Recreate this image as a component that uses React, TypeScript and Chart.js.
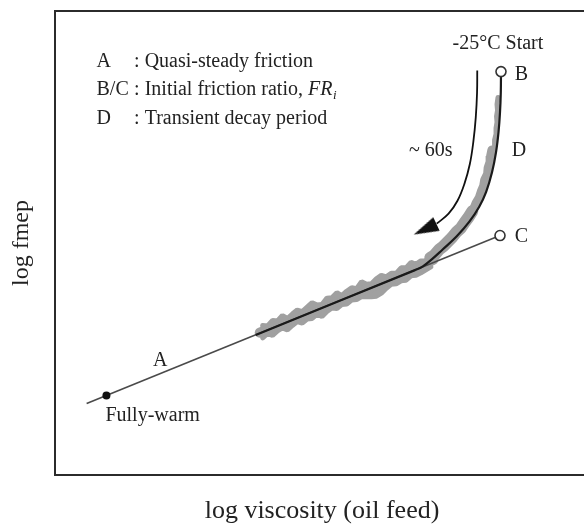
import React, { useEffect, useRef } from "react";
import { Chart, registerables } from "chart.js";

Chart.register(...registerables);

// ---------- schematic axes (arbitrary log units) ----------
const X_MIN = 0;
const X_MAX = 108;
const Y_MIN = 0;
const Y_MAX = 93.4;

// ---------- line A : quasi-steady friction ----------
const lineAX = [6.4, 90];
const lineAY = [14.4, 48.2];

// fully-warm operating point
const fullyWarmX = [10.4];
const fullyWarmY = [16];

// B (-25°C start) and C (quasi-steady value at start)
const startPointsX = [90.2, 90];
const startPointsY = [81.2, 48.2];

// ---------- fitted transient decay curve D (B -> onto line A) ----------
const curveDX = [90.2, 90.16, 90, 89.7, 89.2, 88.4, 87.2, 85.8, 83.8, 81.2, 78.4, 76.2, 74.4, 72.8, 40.6];
const curveDY = [81.2, 77, 73, 69, 65, 61, 57, 54, 51, 48, 45.4, 43.4, 42, 41.24, 28.2];

// ---------- measured friction trace (grey, noisy) ----------
const traceTopX = [89.6, 89.4, 89.5, 89.3, 89.4, 89.2, 89.2, 88.9, 88.9, 88.6];
const traceTopY = [76, 74.6, 73.4, 72.2, 71, 69.8, 68.6, 67.4, 66.2, 65];

const traceMidX = [88.35, 88.1, 88.0, 87.6, 87.5, 86.9, 86.7, 86.2, 85.8, 85.2, 84.8, 84.0];
const traceMidY = [65.4, 64.2, 63, 61.8, 60.6, 59.4, 58.2, 57, 55.8, 54.8, 53.8, 52.8];

const traceBendX = [84.4, 83.5, 82.9, 82.0, 81.2, 80.3, 79.6, 78.5, 77.7, 76.7, 75.9];
const traceBendY = [53.1, 51.7, 50.9, 49.6, 48.9, 47.8, 47.1, 46, 45.4, 44.2, 43.7];

// core of the quasi-steady part of the trace (rounded left end)
const traceCoreX = [41.4, 50, 60, 70, 74, 76.5];
const traceCoreY = [28.65, 32.13, 36.17, 40.26, 42.0, 43.3];

// upper and lower noisy envelope of the quasi-steady part
const envX = [42, 43, 44, 45, 46, 47, 48, 49, 50, 51, 52, 53, 54, 55, 56, 57, 58, 59, 60, 61, 62, 63, 64, 65, 66, 67, 68, 69, 70, 71, 72, 73, 74, 75, 76];
const envUpperY = [30.1, 30.0, 31.1, 31.0, 32.1, 31.5, 32.4, 33.2, 32.9, 33.8, 34.7, 34.2, 34.3, 35.6, 35.7, 36.7, 36.1, 37.0, 37.7, 37.5, 38.9, 38.4, 38.5, 39.5, 40.2, 39.9, 40.6, 40.6, 41.7, 41.7, 42.8, 42.4, 43.1, 43.1, 44.0];
const envLowerY = [27.6, 28.5, 28.1, 29.0, 29.6, 29.2, 30.1, 30.9, 30.6, 31.4, 31.5, 32.4, 31.9, 32.9, 33.6, 33.5, 34.3, 34.4, 35.2, 35.3, 35.9, 35.9, 35.9, 36.0, 36.6, 37.6, 38.4, 38.5, 39.1, 39.2, 40.1, 40.2, 40.7, 41.3, 41.9];

// ---------- "~60s" time arrow ----------
const arrowX = [85.4, 85.36, 85.1, 84.6, 83.9, 82.8, 81.4, 79.6, 77.2];
const arrowY = [81.4, 77, 72, 67, 62.6, 58.6, 55.2, 52.6, 50.6];
const arrowHeadX = [74.86];
const arrowHeadY = [49.46];
const ARROW_HEAD_ROTATION = 245;

// ---------- text ----------
const X_TITLE = "log viscosity (oil feed)";
const Y_TITLE = "log fmep";
const legendKeys = ["A", "B/C", "D"];
const legendDescriptions = [": Quasi-steady friction", ": Initial friction ratio, ", ": Transient decay period"];
const legendSymbol = "FR";
const legendSubscript = "i";
const LEGEND_KEY_X = 8.4;
const LEGEND_TEXT_X = 16;
const LEGEND_ROW_Y = [82.2, 76.46, 70.66];

const pointLabels = [
  { text: "-25°C Start", x: 80.4, y: 85.7 },
  { text: "B", x: 93, y: 79.6 },
  { text: "~ 60s", x: 71.6, y: 64.2 },
  { text: "D", x: 92.4, y: 64.2 },
  { text: "C", x: 93, y: 47 },
  { text: "A", x: 19.8, y: 22 },
  { text: "Fully-warm", x: 10.2, y: 10.8 },
];

const FONT = '"Liberation Serif", "Times New Roman", Times, serif';
const TEXT_COLOR = "#222";
const FRAME_COLOR = "#2b2b2b";
const TRACE_COLOR = "#a0a0a0";

const pts = (xs: number[], ys: number[]) => xs.map((x, i) => ({ x, y: ys[i] }));

const schematicPlugin = {
  id: "schematicText",
  afterDatasetsDraw(chart: any) {
    const { ctx, chartArea: a, scales } = chart;
    const sx = (v: number) => scales.x.getPixelForValue(v);
    const sy = (v: number) => scales.y.getPixelForValue(v);
    ctx.save();
    ctx.strokeStyle = FRAME_COLOR;
    ctx.lineWidth = 2;
    ctx.strokeRect(a.left, a.top, a.right - a.left, a.bottom - a.top);

    ctx.fillStyle = TEXT_COLOR;
    ctx.textAlign = "left";
    ctx.textBaseline = "alphabetic";
    ctx.font = `20px ${FONT}`;
    legendKeys.forEach((k, i) => {
      ctx.fillText(k, sx(LEGEND_KEY_X), sy(LEGEND_ROW_Y[i]));
      ctx.fillText(legendDescriptions[i], sx(LEGEND_TEXT_X), sy(LEGEND_ROW_Y[i]));
    });
    const w = ctx.measureText(legendDescriptions[1]).width;
    const x0 = sx(LEGEND_TEXT_X) + w;
    const yb = sy(LEGEND_ROW_Y[1]);
    ctx.font = `italic 20px ${FONT}`;
    ctx.fillText(legendSymbol, x0, yb);
    const w2 = ctx.measureText(legendSymbol).width;
    ctx.font = `italic 13px ${FONT}`;
    ctx.fillText(legendSubscript, x0 + w2 + 0.5, yb + 4);

    ctx.font = `20px ${FONT}`;
    pointLabels.forEach((l) => ctx.fillText(l.text, sx(l.x), sy(l.y)));
    ctx.restore();
  },
};

export default function App() {
  const ref = useRef<HTMLCanvasElement>(null);

  useEffect(() => {
    document.body.style.overflow = "hidden";
    document.documentElement.style.overflow = "hidden";

    const head = document.createElement("canvas");
    head.width = 15;
    head.height = 25;
    const hc = head.getContext("2d")!;
    hc.fillStyle = "#111";
    hc.beginPath();
    hc.moveTo(7.5, 0);
    hc.lineTo(15, 25);
    hc.lineTo(0, 25);
    hc.closePath();
    hc.fill();

    const traceDs = (xs: number[], ys: number[], width: number, join: "round" | "bevel", fill: any = false) => ({
      data: pts(xs, ys),
      borderColor: TRACE_COLOR,
      backgroundColor: TRACE_COLOR,
      borderWidth: width,
      borderJoinStyle: join,
      borderCapStyle: "round" as const,
      pointRadius: 0,
      tension: 0,
      fill,
      order: 10,
    });

    const chart = new Chart(ref.current!, {
      type: "line",
      data: {
        datasets: [
          traceDs(traceTopX, traceTopY, 5, "bevel"),
          traceDs(traceMidX, traceMidY, 9, "bevel"),
          traceDs(traceBendX, traceBendY, 12, "bevel"),
          traceDs(traceCoreX, traceCoreY, 10, "round"),
          traceDs(envX, envUpperY, 5, "bevel", "+1"),
          traceDs(envX, envLowerY, 5, "bevel"),
          {
            data: pts(lineAX, lineAY),
            borderColor: "#4a4a4a",
            borderWidth: 1.6,
            pointRadius: 0,
            tension: 0,
            fill: false,
            order: 8,
          },
          {
            data: pts(curveDX, curveDY),
            borderColor: "#1a1a1a",
            borderWidth: 2.2,
            pointRadius: 0,
            tension: 0.4,
            fill: false,
            order: 6,
          },
          {
            data: pts(arrowX, arrowY),
            borderColor: "#111",
            borderWidth: 1.8,
            pointRadius: 0,
            tension: 0.4,
            fill: false,
            order: 5,
          },
          {
            data: pts(arrowHeadX, arrowHeadY),
            showLine: false,
            pointStyle: head as any,
            pointRadius: 10,
            rotation: ARROW_HEAD_ROTATION,
            order: 4,
          },
          {
            data: pts(fullyWarmX, fullyWarmY),
            showLine: false,
            pointRadius: 4,
            pointBackgroundColor: "#111",
            pointBorderColor: "#111",
            pointBorderWidth: 0,
            order: 2,
          },
          {
            data: pts(startPointsX, startPointsY),
            showLine: false,
            pointRadius: 5,
            pointBackgroundColor: "#fff",
            pointBorderColor: "#333",
            pointBorderWidth: 1.6,
            order: 1,
          },
        ],
      },
      options: {
        responsive: false,
        animation: false,
        events: [],
        layout: { padding: { left: 0, top: 8, right: 5, bottom: 0 } },
        plugins: { legend: { display: false }, tooltip: { enabled: false } },
        scales: {
          x: {
            type: "linear",
            min: X_MIN,
            max: X_MAX,
            ticks: { display: false },
            grid: { display: false, drawTicks: false },
            border: { display: false },
            title: {
              display: true,
              text: X_TITLE,
              color: TEXT_COLOR,
              font: { family: FONT, size: 26 },
              padding: { top: 20.8, bottom: 0 },
            },
          },
          y: {
            type: "linear",
            min: Y_MIN,
            max: Y_MAX,
            ticks: { display: false },
            grid: { display: false, drawTicks: false },
            border: { display: false },
            title: {
              display: true,
              text: Y_TITLE,
              color: TEXT_COLOR,
              font: { family: FONT, size: 24 },
              padding: { top: 7.6, bottom: 18.6 },
            },
          },
        },
      },
      plugins: [schematicPlugin],
    });
    return () => chart.destroy();
  }, []);

  return (
    <div style={{ position: "fixed", left: 0, top: 0, width: 600, height: 527, background: "#fff" }}>
      <canvas ref={ref} width={600} height={527} style={{ display: "block" }} />
    </div>
  );
}
